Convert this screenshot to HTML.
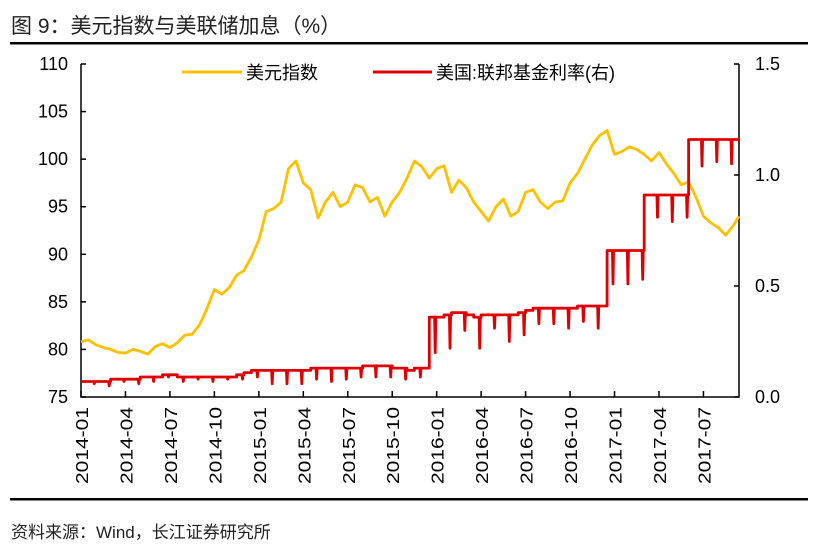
<!DOCTYPE html>
<html><head><meta charset="utf-8"><style>
body{margin:0;background:#fff;width:819px;height:558px;overflow:hidden;font-family:"Liberation Sans","Noto Sans CJK SC",sans-serif;}
svg{position:absolute;left:0;top:0}
</style></head><body>
<svg id="chart" width="819" height="558">
<text x="11" y="33" font-size="21" fill="#222" font-family="Liberation Sans, Noto Sans CJK SC, sans-serif">图 9：美元指数与美联储加息（%）</text>
<rect x="10" y="42" width="798" height="2.5" fill="#000"/>
<rect x="10" y="498" width="798" height="2.5" fill="#000"/>
<text x="11" y="538" font-size="17" fill="#222" font-family="Liberation Sans, Noto Sans CJK SC, sans-serif">资料来源：Wind，长江证券研究所</text>
<g id="axes"></g><g id="series"></g>
<g>
<line x1="182" y1="72" x2="242" y2="72" stroke="#FFC000" stroke-width="3"/>
<text x="246" y="79" font-size="18" fill="#000" font-family="Liberation Sans, Noto Sans CJK SC, sans-serif">美元指数</text>
<line x1="373" y1="72" x2="432" y2="72" stroke="#E00000" stroke-width="3"/>
<text x="436" y="79" font-size="18" fill="#000" font-family="Liberation Sans, Noto Sans CJK SC, sans-serif">美国:联邦基金利率(右)</text>
</g>
</svg>
<script>
const xLabels=["2014-01","2014-04","2014-07","2014-10","2015-01","2015-04","2015-07","2015-10","2016-01","2016-04","2016-07","2016-10","2017-01","2017-04","2017-07"];
const leftTicks=[75,80,85,90,95,100,105,110];
const rightTicks=["0.0","0.5","1.0","1.5"];
const dxy=[80.8,81.0,80.5,80.2,80.0,79.7,79.6,80.0,79.8,79.5,80.3,80.6,80.2,80.7,81.5,81.6,82.6,84.3,86.3,85.8,86.5,87.8,88.3,89.7,
91.5,94.5,94.8,95.5,99.0,99.8,97.5,96.8,93.8,95.5,96.5,95.0,95.5,97.3,97.0,95.5,96.0,94.0,95.5,96.5,98.0,99.8,99.2,98.0,
99.0,99.3,96.5,97.8,97.0,95.5,94.5,93.5,95.0,95.8,94.0,94.5,96.5,96.8,95.5,94.8,95.5,95.6,97.5,98.5,100.0,101.5,102.5,103.0,
100.5,100.8,101.3,101.0,100.5,99.8,100.7,99.5,98.5,97.3,97.6,96.0,94.0,93.3,92.8,92.0,93.0,94.0];
const fed=[0.07,0.07,0.07,0.07,0.08,0.08,0.08,0.08,0.09,0.09,0.09,0.10,0.10,0.09,0.09,0.09,0.09,0.09,0.09,0.09,0.09,0.10,0.11,0.12,
0.12,0.12,0.12,0.12,0.12,0.12,0.12,0.13,0.13,0.13,0.13,0.13,0.13,0.13,0.14,0.14,0.14,0.14,0.13,0.13,0.12,0.13,0.13,0.36,
0.36,0.37,0.38,0.38,0.37,0.36,0.37,0.37,0.37,0.37,0.37,0.38,0.39,0.40,0.40,0.40,0.40,0.40,0.40,0.41,0.41,0.41,0.41,0.66,
0.66,0.66,0.66,0.66,0.91,0.91,0.91,0.91,0.91,0.91,1.16,1.16,1.16,1.16,1.16,1.16,1.16];
const fedDips=[0.01,0.02,0.01,0.02,0.02,0.01,0.02,0.01,0.02,0.01,0.02,0.03,
0.06,0.06,0.06,0.05,0.06,0.05,0.04,0.05,0.05,0.05,0.04,0.16,
0.15,0.08,0.14,0.06,0.12,0.10,0.07,0.07,0.09,0.07,0.10,0.15,
0.15,0.13,0.10,0.12,0.10,0.12,0.10,0.11];
const L=81,R=739,T=64,B=397,PPM=14.82,MAXM=44.4;
const xs=m=>L+Math.min(m,MAXM)*PPM;
const yl=v=>B-(v-75)/35*(B-T);
const yr=v=>B-v/1.5*(B-T);
const NS="http://www.w3.org/2000/svg";
const ax=document.getElementById('axes'),se=document.getElementById('series');
function mk(tag,at,parent){const e=document.createElementNS(NS,tag);for(const k in at)e.setAttribute(k,at[k]);parent.appendChild(e);return e;}
let e;
e=mk('path',{d:`M${L},${T}V${B}H${R}V${T}`,fill:'none',stroke:'#000','stroke-width':1.5},ax);


leftTicks.forEach(v=>{const y=yl(v);
 e=mk('line',{x1:L,x2:L+5,y1:y,y2:y,stroke:'#000','stroke-width':1.5},ax);
 
 
 e=mk('text',{x:L-13,y:y+6,'text-anchor':'end','font-size':18,fill:'#000'},ax);e.textContent=v;
 
 
});
rightTicks.forEach(s=>{const y=yr(parseFloat(s));
 e=mk('line',{x1:R-5,x2:R,y1:y,y2:y,stroke:'#000','stroke-width':1.5},ax);
 
 
 e=mk('text',{x:R+16,y:y+6,'font-size':18,fill:'#000'},ax);e.textContent=s;
 
 
});
xLabels.forEach((s,i)=>{const x=xs(i*3);
 e=mk('line',{x1:x,x2:x,y1:B,y2:B-6,stroke:'#000','stroke-width':1.5},ax);
 
 
 e=mk('text',{x:0,y:0,'text-anchor':'end','font-size':21,fill:'#000',transform:`translate(${x+7},${B+10}) rotate(-90) scale(1,0.85)`},ax);e.textContent=s;
 
 
});
let d='';
dxy.forEach((v,i)=>{d+=(i?'L':'M')+xs(i*0.5).toFixed(1)+','+yl(v).toFixed(1);});
e=mk('path',{d,fill:'none',stroke:'#FFC000','stroke-width':2.8,'stroke-linejoin':'round'},se);


let f='';
fed.forEach((v,i)=>{const m=i*0.5;const x=xs(m),y=yr(v);
 f+=(i?'H'+x.toFixed(1)+'V':'M'+x.toFixed(1)+',')+y.toFixed(1);
 f+='H'+xs(m+0.5).toFixed(1);
 if(i%2===1){const mi=(i-1)/2;const dm=mi+0.9;
  if(dm<MAXM && fedDips[mi]!==undefined){const xd=xs(dm);
   f+='H'+(xd-0.6).toFixed(1)+'L'+xd.toFixed(1)+','+yr(v-fedDips[mi]).toFixed(1)+'L'+(xd+0.6).toFixed(1)+','+y.toFixed(1);}}
});
e=mk('path',{d:f,fill:'none',stroke:'#E00000','stroke-width':2.8,'stroke-linejoin':'round'},se);


</script>
</body></html>
